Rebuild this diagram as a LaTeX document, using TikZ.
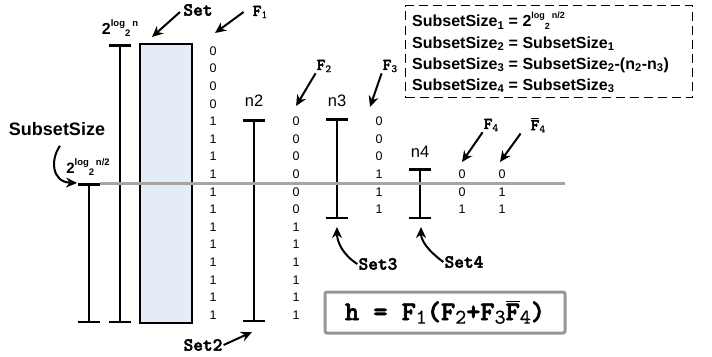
\documentclass[tikz,border=0pt]{standalone}
\usepackage{fontspec}
\setmainfont{Liberation Sans}
% typewriter faces with serifs: heavy for names, regular for indices
\newfontfamily\courfam{lmmonolt10-bold.otf}[FakeBold=2.5]
\newfontfamily\courreg{lmmono10-regular.otf}[FakeBold=0.6]
\usetikzlibrary{arrows.meta}

\definecolor{setblue}{RGB}{228,236,247}
\definecolor{linegray}{RGB}{165,165,165}
\definecolor{boxgray}{RGB}{150,150,150}

% font size helper
\newcommand\fsz[1]{\fontsize{#1}{#1}\selectfont}
% 2^{log_2 x} written with small raised/lowered parts
\newcommand\powlog[2]{2\raisebox{0.95ex}{\fsz{#1}log}\raisebox{-0.3ex}{\fsz{#1}2}\hspace{0.12em}\raisebox{0.95ex}{\fsz{#1}#2}}
% light subscript for the typewriter labels
\newcommand\msub[2]{\raisebox{-0.3ex}{\courreg\fsz{#1}#2}}
% overbar over a glyph
\newcommand\ovl[1]{\leavevmode\setbox0\hbox{#1}\rlap{\rule[\dimexpr\ht0+1.2pt\relax]{\wd0}{1.3pt}}\box0}

\begin{document}
\begin{tikzpicture}[x=1pt,y=-1pt,
  bar/.style={line width=2pt, {Bar[width=22pt,line width=2.5pt]}-{Bar[width=22pt,line width=2.5pt]}},
  arr/.style={line width=2pt, -{Stealth[length=11pt,width=10pt]}},
  bit/.style={font=\fsz{12.5}, inner sep=0pt},
  nlbl/.style={font=\fsz{16.5}, inner sep=1pt},
  clbl/.style={font=\courfam\fsz{18.5}, inner sep=1pt},
  flbl/.style={font=\courfam\fsz{16.5}, inner sep=1pt},
  eqline/.style={font=\bfseries\fsz{16}, anchor=base west, inner sep=0pt},
]
\useasboundingbox (0,0) rectangle (712,356);

% ---- vertical range bars ----
\coordinate (ssTop) at (89,183);  \coordinate (ssBot) at (89,323);
\coordinate (fullTop) at (120,44); \coordinate (fullBot) at (120,323);
\coordinate (n2Top) at (254,119); \coordinate (n2Bot) at (254,322);
\coordinate (n3Top) at (337,118); \coordinate (n3Bot) at (337,219);
\coordinate (n4Top) at (420,168); \coordinate (n4Bot) at (420,219);
\draw[bar] (ssTop) -- (ssBot);
\draw[bar] (fullTop) -- (fullBot);
\draw[bar] (n2Top) -- (n2Bot);
\draw[bar] (n3Top) -- (n3Bot);
\draw[bar] (n4Top) -- (n4Bot);

% ---- the full set ----
\node[draw, line width=1.5pt, fill=setblue, minimum width=52pt, minimum height=279pt, inner sep=0pt] (setbox) at (166,183.5) {};

% ---- bit columns ----
\foreach \v [count=\k from 0] in {0,0,0,0,1,1,1,1,1,1,1,1,1,1,1,1}
  \node[bit] (fa-\k) at (213,{51+17.6*\k}) {\v};
\foreach \v [count=\k from 4] in {0,0,0,0,0,0,1,1,1,1,1,1}
  \node[bit] (fb-\k) at (296,{51+17.6*\k}) {\v};
\foreach \v [count=\k from 4] in {0,0,0,1,1,1}
  \node[bit] (fc-\k) at (379,{51+17.6*\k}) {\v};
\foreach \v [count=\k from 7] in {0,0,1}
  \node[bit] (fd-\k) at (462,{51+17.6*\k}) {\v};
\foreach \v [count=\k from 7] in {0,1,1}
  \node[bit] (fe-\k) at (502,{51+17.6*\k}) {\v};

% ---- horizontal cut line ----
\coordinate (lineEnd) at (565,183);
\draw[line width=3pt, linegray] ([xshift=11pt]ssTop) -- (lineEnd);

% ---- size labels ----
\node[font=\bfseries\fsz{18}, inner sep=1pt] (sslbl) at (57,129) {SubsetSize};
\node[font=\bfseries\fsz{15}, inner sep=0pt] (halflbl) at (88,167) {\powlog{9.5}{n/2}};
\node[font=\bfseries\fsz{16}, inner sep=0pt] (fulllbl) at (120,28) {\powlog{9.5}{n}};
\node[nlbl] (n2lbl) at (254,101) {n2};
\node[nlbl] (n3lbl) at (337,101) {n3};
\node[nlbl] (n4lbl) at (420,152) {n4};

\coordinate (ssTip) at (77,183);
\draw[arr] ([xshift=3pt,yshift=-9pt]sslbl.south) .. controls (50,160) and (52,182) .. (ssTip);

% ---- pointer labels ----
\node[clbl] (setlbl) at (198,10) {Set};
\node[flbl] (f1lbl) at (260,12) {F\msub{11}{1}};
\node[flbl] (f2lbl) at (324,66) {F\msub{11}{2}};
\node[flbl] (f3lbl) at (390,66) {F\msub{11}{3}};
\node[flbl] (f4lbl) at (491,125) {F\msub{11}{4}};
\node[flbl] (f4blbl) at (538,125) {\ovl{F}\msub{11}{4}};

\coordinate (setTip) at (152,37);
\coordinate (f1Tip) at (215,33);
\coordinate (f2Tip) at (296,106);
\coordinate (f3Tip) at (370,107);
\coordinate (f4Tip) at (462,162);
\coordinate (f4bTip) at (500,162);
\draw[arr, shorten <=3pt] (setlbl.west) -- (setTip);
\draw[arr] ([xshift=-8pt]f1lbl.west) -- (f1Tip);
\draw[arr] (f2lbl.south west) -- (f2Tip);
\draw[arr] (f3lbl.south west) -- (f3Tip);
\draw[arr] (f4lbl.south west) -- (f4Tip);
\draw[arr] ([xshift=-9pt]f4blbl.south west) -- (f4bTip);

\node[clbl] (set2lbl) at (203,345) {Set2};
\node[clbl] (set3lbl) at (378,264) {Set3};
\node[clbl] (set4lbl) at (464,262) {Set4};
\coordinate (set2Tip) at (252,332);
\coordinate (set3Tip) at (337,227);
\coordinate (set4Tip) at (421,227);
\draw[arr] (set2lbl.east) -- (set2Tip);
\draw[arr] (set3lbl.west) .. controls (343,255) and (337,242) .. (set3Tip);
\draw[arr] (set4lbl.west) .. controls (427,250) and (421,240) .. (set4Tip);

% ---- subset size definitions ----
\node[draw, dashed, dash pattern=on 9pt off 5pt, line width=1pt, minimum width=287pt, minimum height=92pt, anchor=north west] (defbox) at (405,5) {};
\node[eqline] (def1) at (412,27) {SubsetSize\textsubscript{1} = \powlog{9}{n/2}};
\node[eqline] (def2) at (412,48) {SubsetSize\textsubscript{2} = SubsetSize\textsubscript{1}};
\node[eqline] (def3) at (412,69) {SubsetSize\textsubscript{3} = SubsetSize\textsubscript{2}-(n\textsubscript{2}-n\textsubscript{3})};
\node[eqline] (def4) at (412,90) {SubsetSize\textsubscript{4} = SubsetSize\textsubscript{3}};

% ---- hash function ----
\node[draw=boxgray, line width=3pt, rounded corners=2pt, minimum width=240pt, minimum height=41pt,
      font=\courfam\fsz{27}] (hbox) at (445,312.5)
  {h = F\msub{21}{1}(F\msub{21}{2}+F\msub{21}{3}\ovl{F}\msub{21}{4})};
\end{tikzpicture}
\end{document}
